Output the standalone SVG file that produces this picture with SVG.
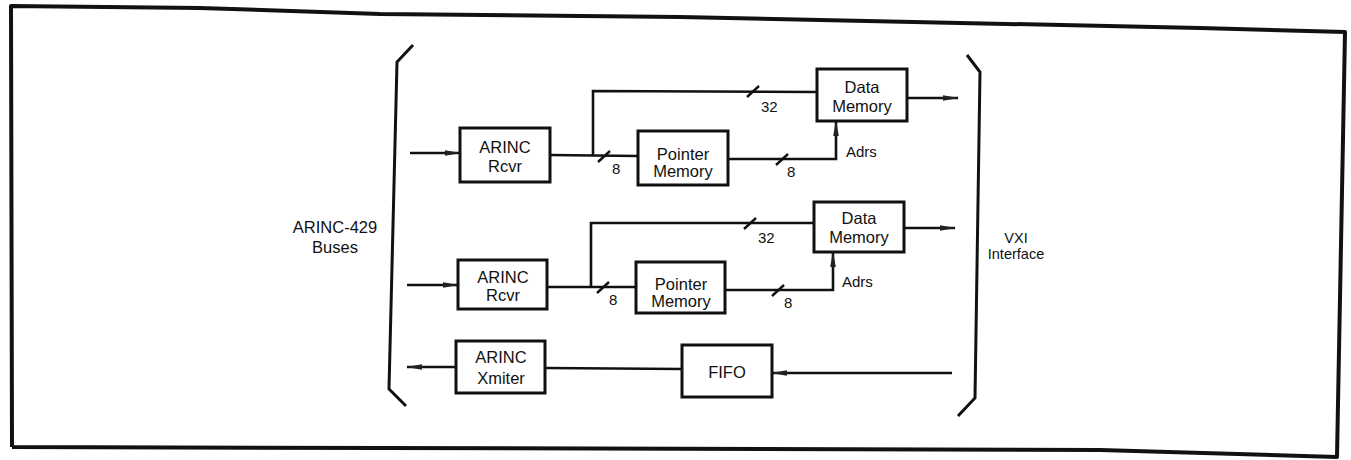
<svg xmlns="http://www.w3.org/2000/svg" width="1351" height="460" viewBox="0 0 1351 460">
<style>
.frame{fill:none;stroke:#111;stroke-width:4;stroke-linejoin:round}
.br{fill:none;stroke:#111;stroke-width:3;stroke-linejoin:miter}
.box{fill:#fff;stroke:#111;stroke-width:3}
.ln{fill:none;stroke:#111;stroke-width:2.6}
.sl{fill:none;stroke:#111;stroke-width:2.4}
.t{font-family:"Liberation Sans",Arial,sans-serif;font-size:16.5px;fill:#111;text-anchor:middle}
.s{font-family:"Liberation Sans",Arial,sans-serif;font-size:14.5px;fill:#111;text-anchor:middle}
.lb{font-family:"Liberation Sans",Arial,sans-serif;font-size:15px;fill:#111}
</style>
<defs>
<marker id="ah" viewBox="0 0 16 8" refX="15" refY="4" markerWidth="16" markerHeight="8" markerUnits="userSpaceOnUse" orient="auto">
<path d="M0,1.2 L16,4 L0,6.8 Z" fill="#222"/>
</marker>
</defs>
<rect width="1351" height="460" fill="#fff"/>
<g id="frame">
<polyline class="frame" points="12,447 11,6 200,8 380,14 680,17 1200,28 1345,32 1337,457 1100,450 12,447"/>
</g>
<g id="brackets">
<polyline class="br" points="413,45 397,62 389,389 406,406"/>
<polyline class="br" points="967,55 980,72 975,398 958,416"/>
</g>
<g id="connectors">
<line class="ln" x1="410" y1="153" x2="460" y2="153" marker-end="url(#ah)"/>
<polyline class="ln" points="550,155 638,156"/>
<polyline class="ln" points="593,156 593,91 817,92"/>
<polyline class="ln" points="728,159 836,159 836,121" marker-end="url(#ah)"/>
<line class="ln" x1="907" y1="98" x2="958" y2="98" marker-end="url(#ah)"/>
<line class="sl" x1="598" y1="162" x2="610" y2="151"/>
<line class="sl" x1="747" y1="97" x2="759" y2="86"/>
<line class="sl" x1="776" y1="165" x2="788" y2="154"/>

<line class="ln" x1="407" y1="285" x2="458" y2="285" marker-end="url(#ah)"/>
<polyline class="ln" points="547,287 636,287"/>
<polyline class="ln" points="591,287 591,223 814,223"/>
<polyline class="ln" points="725,290 833,290 833,252" marker-end="url(#ah)"/>
<line class="ln" x1="904" y1="228" x2="955" y2="228" marker-end="url(#ah)"/>
<line class="sl" x1="597" y1="293" x2="609" y2="282"/>
<line class="sl" x1="744" y1="229" x2="756" y2="218"/>
<line class="sl" x1="772" y1="296" x2="784" y2="285"/>

<line class="ln" x1="456" y1="367" x2="407" y2="367" marker-end="url(#ah)"/>
<line class="ln" x1="545" y1="368" x2="682" y2="369"/>
<line class="ln" x1="952" y1="373" x2="772" y2="373" marker-end="url(#ah)"/>
</g>
<g id="labels">
<text class="lb" x="612" y="174">8</text>
<text class="lb" x="787" y="177">8</text>
<text class="lb" x="761" y="112">32</text>
<text class="lb" x="846" y="157">Adrs</text>
<text class="lb" x="609" y="305">8</text>
<text class="lb" x="784" y="308">8</text>
<text class="lb" x="758" y="243">32</text>
<text class="lb" x="842" y="287">Adrs</text>
</g>
<g id="side-left">
<text class="t" x="335" y="233">ARINC-429</text>
<text class="t" x="335" y="253">Buses</text>
</g>
<g id="side-right">
<text class="s" x="1016" y="243">VXI</text>
<text class="s" x="1016" y="259">Interface</text>
</g>
<g id="rcvr1">
<rect class="box" x="460" y="128" width="90" height="54"/>
<text class="t" x="505" y="153">ARINC</text>
<text class="t" x="505" y="172">Rcvr</text>
</g>
<g id="ptr1">
<rect class="box" x="638" y="131" width="90" height="54"/>
<text class="t" x="683" y="160">Pointer</text>
<text class="t" x="683" y="177">Memory</text>
</g>
<g id="data1">
<rect class="box" x="817" y="69" width="90" height="52"/>
<text class="t" x="862" y="93">Data</text>
<text class="t" x="862" y="112">Memory</text>
</g>
<g id="rcvr2">
<rect class="box" x="458" y="260" width="89" height="49"/>
<text class="t" x="503" y="283">ARINC</text>
<text class="t" x="503" y="301">Rcvr</text>
</g>
<g id="ptr2">
<rect class="box" x="636" y="262" width="89" height="51"/>
<text class="t" x="681" y="290">Pointer</text>
<text class="t" x="681" y="307">Memory</text>
</g>
<g id="data2">
<rect class="box" x="814" y="202" width="90" height="50"/>
<text class="t" x="859" y="224">Data</text>
<text class="t" x="859" y="243">Memory</text>
</g>
<g id="xmiter">
<rect class="box" x="456" y="341" width="89" height="52"/>
<text class="t" x="501" y="363">ARINC</text>
<text class="t" x="501" y="384">Xmiter</text>
</g>
<g id="fifo">
<rect class="box" x="682" y="345" width="90" height="52"/>
<text class="t" x="727" y="378">FIFO</text>
</g>
</svg>
